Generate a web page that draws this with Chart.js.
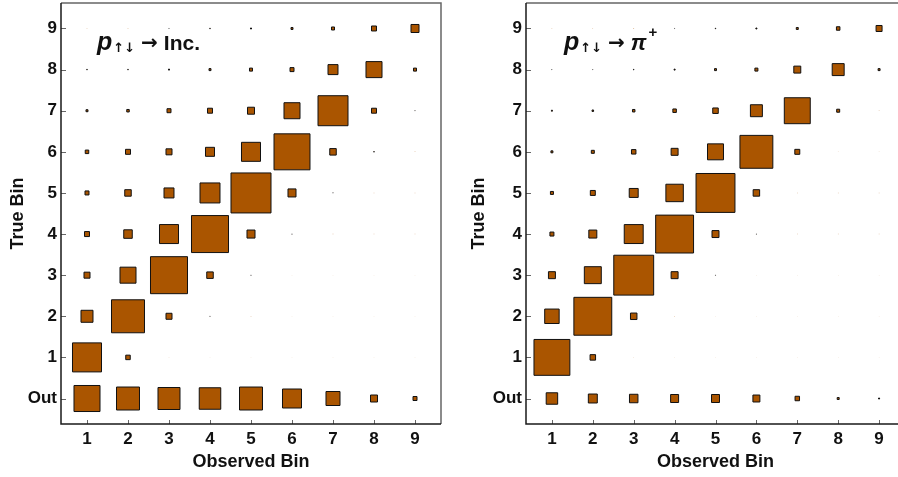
<!DOCTYPE html>
<html><head><meta charset="utf-8">
<script src="https://cdn.jsdelivr.net/npm/chart.js@4.4.1/dist/chart.umd.min.js"></script>
<style>
html,body{margin:0;padding:0;background:#fff;overflow:hidden;width:898px;height:477px;position:relative;}
#c1{position:absolute;left:0;top:0;width:449px;height:477px;}
#c2{position:absolute;left:449px;top:0;width:460px;height:477px;}
</style></head><body>
<canvas id="c1" width="449" height="477"></canvas>
<canvas id="c2" width="460" height="477"></canvas>
<script>
// ---- data ----
const observedBins = [1, 2, 3, 4, 5, 6, 7, 8, 9];
const observedLabels = ['1', '2', '3', '4', '5', '6', '7', '8', '9'];
const trueBins = [0, 1, 2, 3, 4, 5, 6, 7, 8, 9];
const trueLabels = ['Out', '1', '2', '3', '4', '5', '6', '7', '8', '9'];

// rows: true bin Out,1..9 ; columns: observed bin 1..9 (relative weight, % of largest box)
const incWeights = [
  [65.9, 58.5, 56.1, 54.9, 58.5, 48.8, 36.6, 19.5, 12.2],
  [73.2, 13.4, 1.0, 0.7, 0.7, 0.7, 0.7, 0.7, 0.7],
  [31.7, 82.9, 17.1, 2.4, 1.0, 0.7, 0.7, 0.7, 0.7],
  [17.1, 41.5, 92.7, 18.3, 2.4, 0.7, 0.7, 0.7, 0.7],
  [14.6, 23.2, 48.8, 92.7, 22.0, 2.4, 1.2, 1.0, 1.0],
  [12.2, 18.3, 26.8, 51.2, 100, 22.0, 2.4, 1.0, 1.0],
  [11.0, 14.6, 17.1, 24.4, 48.8, 90.2, 18.3, 3.7, 1.2],
  [7.3, 8.5, 12.2, 14.6, 19.5, 41.5, 75.6, 14.6, 2.4],
  [3.7, 3.7, 4.9, 7.3, 9.8, 12.2, 26.8, 41.5, 9.8],
  [1.0, 1.2, 2.4, 3.7, 4.9, 7.3, 9.8, 14.6, 22.0]
];
const piWeights = [
  [30.5, 24.4, 23.2, 22.0, 22.0, 19.5, 13.4, 7.3, 4.9],
  [90.2, 15.9, 1.0, 0.7, 0.7, 0.7, 0.7, 0.7, 0.7],
  [37.8, 95.1, 18.3, 1.0, 0.7, 0.7, 0.7, 0.7, 0.7],
  [19.5, 43.9, 100, 19.5, 2.4, 0.7, 0.7, 0.7, 0.7],
  [12.2, 22.0, 48.8, 95.1, 19.5, 2.4, 1.0, 1.0, 1.0],
  [9.8, 14.6, 24.4, 45.1, 97.6, 18.3, 1.0, 1.0, 1.0],
  [7.3, 9.8, 13.4, 19.5, 41.5, 82.9, 14.6, 1.0, 1.0],
  [4.9, 6.1, 8.5, 11.0, 15.9, 31.7, 65.9, 9.8, 1.0],
  [2.0, 2.4, 3.7, 4.9, 7.3, 9.8, 19.5, 31.7, 7.3],
  [1.0, 1.0, 1.7, 2.4, 3.7, 4.9, 7.3, 11.0, 17.1]
];

// ---- rendering ----
const FONT = "'Liberation Sans', Arial, Helvetica, sans-serif";
Chart.defaults.font.family = FONT;
const FILL = '#AA5500';
const EDGE = '#111111';

function boxSide(ctx) {
  const sc = ctx.chart.scales.x;
  const bin = sc.getPixelForValue(2) - sc.getPixelForValue(1);
  return (ctx.raw ? ctx.raw.w : 0) / 100 * bin;
}
function boxRadius(ctx) {
  const s = boxSide(ctx);
  const inner = s >= 0.8 ? Math.max(s - 1, 0.2) : s;
  return Math.max(inner, 0.15) / Math.SQRT2;
}

function buildPoints(weights) {
  const pts = [];
  trueBins.forEach((tb, r) => {
    observedBins.forEach((ob, c) => {
      pts.push({ x: ob, y: tb, w: weights[r][c] });
    });
  });
  return pts;
}

const framePlugin = {
  id: 'frameTicks',
  afterDatasetsDraw(chart) {
    const { ctx, chartArea: a, scales } = chart;
    ctx.save();
    ctx.strokeStyle = '#666';
    ctx.lineWidth = 1;
    ctx.beginPath();
    observedBins.forEach(v => {
      const px = Math.round(scales.x.getPixelForValue(v)) + 0.5;
      ctx.moveTo(px, a.bottom); ctx.lineTo(px, a.bottom - 4);
    });
    trueBins.forEach(v => {
      const py = Math.round(scales.y.getPixelForValue(v)) + 0.5;
      ctx.moveTo(a.left, py); ctx.lineTo(a.left + 5, py);
    });
    ctx.stroke();
    ctx.lineWidth = 1.5;
    ctx.strokeStyle = '#666';
    ctx.beginPath();
    ctx.moveTo(a.left, a.top); ctx.lineTo(a.right, a.top); ctx.lineTo(a.right, a.bottom);
    ctx.stroke();
    ctx.strokeStyle = '#1a1a1a';
    ctx.beginPath();
    ctx.moveTo(a.left, a.top); ctx.lineTo(a.left, a.bottom); ctx.lineTo(a.right, a.bottom);
    ctx.stroke();
    ctx.restore();
  }
};

const labelPlugin = {
  id: 'reactionLabel',
  afterDraw(chart, args, opts) {
    const { ctx, chartArea: a } = chart;
    ctx.save();
    ctx.fillStyle = '#111';
    ctx.textBaseline = 'alphabetic';
    let x = a.left + opts.dx;
    const y = a.top + opts.dy;
    ctx.font = "italic bold 25px " + FONT;
    ctx.fillText('p', x, y); x += ctx.measureText('p').width + 1;
    ctx.font = "bold 13px 'DejaVu Sans', " + FONT;
    ctx.fillText('↑↓', x, y + 2); x += ctx.measureText('↑↓').width + 6;
    ctx.font = "bold 20px 'DejaVu Sans', " + FONT;
    ctx.fillText('→', x, y - 1); x += ctx.measureText('→').width + 6;
    if (opts.target === 'inc') {
      ctx.font = "bold 21px " + FONT;
      ctx.fillText('Inc.', x, y);
    } else {
      ctx.font = "italic bold 22px " + FONT;
      ctx.fillText('π', x, y); x += ctx.measureText('π').width + 2;
      ctx.font = "bold 15px " + FONT;
      ctx.fillText('+', x, y - 13);
    }
    ctx.restore();
  }
};

function makeChart(id, weights, target, padLeft, yWidth, padRight, textDx) {
  return new Chart(document.getElementById(id), {
    type: 'scatter',
    data: {
      datasets: [{
        data: buildPoints(weights),
        pointStyle: 'rect',
        backgroundColor: FILL,
        borderColor: EDGE,
        pointBorderWidth: ctx => boxSide(ctx) >= 0.8 ? 1 : 0,
        pointRadius: boxRadius,
        pointHoverRadius: boxRadius
      }]
    },
    options: {
      responsive: false,
      animation: false,
      events: [],
      layout: { padding: { left: padLeft, right: padRight, top: 3, bottom: 4 } },
      plugins: {
        legend: { display: false },
        tooltip: { enabled: false },
        reactionLabel: { target: target, dx: textDx, dy: 47 }
      },
      scales: {
        x: {
          type: 'linear',
          min: 0.366, max: 9.634,
          afterBuildTicks: s => { s.ticks = observedBins.map(v => ({ value: v })); },
          afterFit: s => { s.height = 49; s.paddingLeft = 0; s.paddingRight = 0; },
          grid: { display: false, drawTicks: false },
          border: { display: false },
          ticks: {
            color: '#111',
            font: { size: 17, weight: 'bold' },
            padding: 5,
            maxRotation: 0,
            autoSkip: false,
            callback: v => observedLabels[observedBins.indexOf(v)]
          },
          title: { display: true, text: 'Observed Bin', color: '#111',
                   font: { size: 18, weight: 'bold' }, padding: 0 }
        },
        y: {
          type: 'linear',
          min: -0.62, max: 9.62,
          afterBuildTicks: s => { s.ticks = trueBins.map(v => ({ value: v })); },
          afterFit: s => { s.width = yWidth; s.paddingTop = 0; s.paddingBottom = 0; },
          grid: { display: false, drawTicks: false },
          border: { display: false },
          ticks: {
            color: '#111',
            font: { size: 17, weight: 'bold' },
            padding: 4,
            autoSkip: false,
            callback: v => trueLabels[trueBins.indexOf(v)]
          },
          title: { display: true, text: 'True Bin', color: '#111',
                   font: { size: 18, weight: 'bold' }, padding: 0 }
        }
      }
    },
    plugins: [framePlugin, labelPlugin]
  });
}

makeChart('c1', incWeights, 'inc', 7, 54, 8, 36);
makeChart('c2', piWeights, 'pi', 19, 58, 4, 38);
</script>
</body></html>
